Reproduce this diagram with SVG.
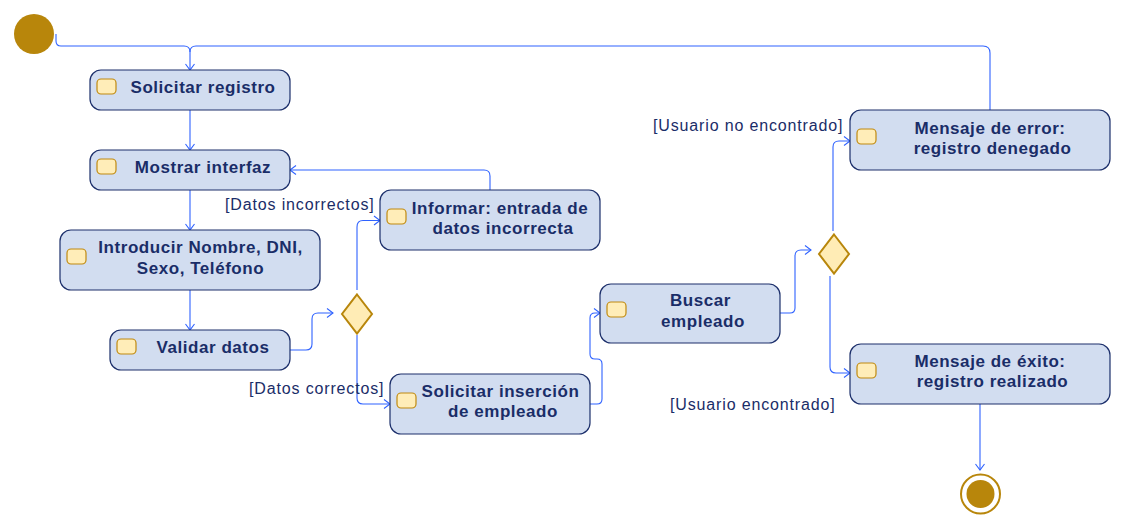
<svg xmlns="http://www.w3.org/2000/svg" width="1121" height="528" viewBox="0 0 1121 528">
<defs>
<style>
.n{fill:#d2ddf0;stroke:#1c2f6b;stroke-width:1.2}
.ic{fill:#ffedb8;stroke:#c08a10;stroke-width:1.2}
.t{font-family:"Liberation Sans",Arial,sans-serif;font-weight:bold;font-size:17px;fill:#1a2d68;text-anchor:middle;letter-spacing:0.55px}
.l{font-family:"Liberation Sans",Arial,sans-serif;font-size:16px;fill:#1a2d68;letter-spacing:0.85px}
.e{fill:none;stroke:#2f62ff;stroke-width:1.1}
.d{fill:#ffecb5;stroke:#b8860b;stroke-width:2}
</style>
<marker id="arr" markerWidth="16" markerHeight="16" viewBox="-8 -8 16 16" refX="0" refY="0" orient="auto" markerUnits="userSpaceOnUse">
<path d="M-6,-4.5 L0,0 L-6,4.5" fill="none" stroke="#2f62ff" stroke-width="1.1"/>
</marker>
</defs>
<rect width="1121" height="528" fill="#ffffff"/>

<g id="connectors">
<path class="e" d="M56,34 V41 Q56,46 61,46 H184 Q190,46 190,52 V70" marker-end="url(#arr)"/>
<path class="e" d="M990,110 V53 Q990,46 983,46 H196 Q190,46 190,52"/>
<path class="e" d="M190,110 V150" marker-end="url(#arr)"/>
<path class="e" d="M190,190 V230" marker-end="url(#arr)"/>
<path class="e" d="M190,290 V330" marker-end="url(#arr)"/>
<path class="e" d="M290,350 H306 Q312,350 312,344 V319 Q312,313 318,313 H333" marker-end="url(#arr)"/>
<path class="e" d="M357,290 V227 Q357,220.5 363,220.5 H380" marker-end="url(#arr)"/>
<path class="e" d="M357,335 V398 Q357,404 363,404 H390" marker-end="url(#arr)"/>
<path class="e" d="M490,190 V176 Q490,170 484,170 H290" marker-end="url(#arr)"/>
<path class="e" d="M590,404 H597 Q602,404 602,399 V364 Q602,359 597,359 H595 Q590,359 590,354 V318 Q590,313 595,313 H600" marker-end="url(#arr)"/>
<path class="e" d="M780,313 H790 Q795,313 795,308 V256 Q795,250 801,250 H811" marker-end="url(#arr)"/>
<path class="e" d="M833,231 V147 Q833,141 839,141 H850" marker-end="url(#arr)"/>
<path class="e" d="M830,276 V367 Q830,373 836,373 H850" marker-end="url(#arr)"/>
<path class="e" d="M980,404 V470" marker-end="url(#arr)"/>
</g>

<g id="start">
<circle cx="34" cy="34" r="20" fill="#b8860b"/>
</g>

<g id="solicitar-registro">
<rect class="n" x="90" y="70" width="200" height="40" rx="11"/>
<rect class="ic" x="97" y="79" width="19" height="15" rx="4"/>
<text class="t" x="203" y="92.5">Solicitar registro</text>
</g>

<g id="mostrar-interfaz">
<rect class="n" x="90" y="150" width="200" height="40" rx="11"/>
<rect class="ic" x="97" y="159" width="19" height="15" rx="4"/>
<text class="t" x="203" y="172.5">Mostrar interfaz</text>
</g>

<g id="introducir">
<rect class="n" x="60" y="230" width="260" height="60" rx="11"/>
<rect class="ic" x="67" y="249" width="19" height="15" rx="4"/>
<text class="t" x="200.5" y="252.5">Introducir Nombre, DNI,</text>
<text class="t" x="200.5" y="273.5">Sexo, Teléfono</text>
</g>

<g id="validar-datos">
<rect class="n" x="110" y="330" width="180" height="40" rx="11"/>
<rect class="ic" x="117" y="339" width="19" height="15" rx="4"/>
<text class="t" x="213" y="352.5">Validar datos</text>
</g>

<g id="decision1">
<polygon class="d" points="357,294.5 372,314 357,333.5 342,314"/>
</g>

<g id="informar">
<rect class="n" x="380" y="190" width="220" height="60" rx="11"/>
<rect class="ic" x="387" y="209" width="19" height="15" rx="4"/>
<text class="t" x="500" y="213.5">Informar: entrada de</text>
<text class="t" x="503" y="233.5">datos incorrecta</text>
</g>

<g id="solicitar-insercion">
<rect class="n" x="390" y="374" width="200" height="60" rx="11"/>
<rect class="ic" x="397" y="393" width="19" height="15" rx="4"/>
<text class="t" x="500.5" y="397">Solicitar inserción</text>
<text class="t" x="503" y="417">de empleado</text>
</g>

<g id="buscar-empleado">
<rect class="n" x="600" y="284" width="180" height="59" rx="11"/>
<rect class="ic" x="607" y="302" width="19" height="15" rx="4"/>
<text class="t" x="700.5" y="306">Buscar</text>
<text class="t" x="703" y="327">empleado</text>
</g>

<g id="decision2">
<polygon class="d" points="834,234.5 849,254 834,273.5 819,254"/>
</g>

<g id="mensaje-error">
<rect class="n" x="850" y="110" width="260" height="60" rx="11"/>
<rect class="ic" x="857" y="129" width="19" height="15" rx="4"/>
<text class="t" x="990" y="133.5">Mensaje de error:</text>
<text class="t" x="992.5" y="153.5">registro denegado</text>
</g>

<g id="mensaje-exito">
<rect class="n" x="850" y="344" width="260" height="60" rx="11"/>
<rect class="ic" x="857" y="363" width="19" height="15" rx="4"/>
<text class="t" x="990" y="367">Mensaje de éxito:</text>
<text class="t" x="992.5" y="387">registro realizado</text>
</g>

<g id="end">
<circle cx="980.5" cy="494" r="19.5" fill="#ffffff" stroke="#b8860b" stroke-width="2"/>
<circle cx="980.5" cy="494" r="14" fill="#b8860b"/>
</g>

<g id="labels">
<text class="l" x="225" y="210">[Datos incorrectos]</text>
<text class="l" x="249" y="394">[Datos correctos]</text>
<text class="l" x="653" y="131">[Usuario no encontrado]</text>
<text class="l" x="670" y="409.5">[Usuario encontrado]</text>
</g>
</svg>
